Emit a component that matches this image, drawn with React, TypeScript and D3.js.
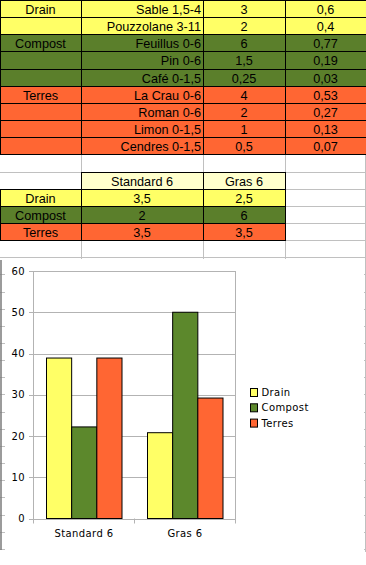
import React from 'react';
import * as d3 from 'd3';

// sheet contents
const rowGroups = ['Drain', 'Drain', 'Compost', 'Compost', 'Compost', 'Terres', 'Terres', 'Terres', 'Terres'];
const materials = ['Sable 1,5-4', 'Pouzzolane 3-11', 'Feuillus 0-6', 'Pin 0-6', 'Café 0-1,5', 'La Crau 0-6', 'Roman 0-6', 'Limon 0-1,5', 'Cendres 0-1,5'];
const volumes = ['3', '2', '6', '1,5', '0,25', '4', '2', '1', '0,5'];
const ratios = ['0,6', '0,4', '0,77', '0,19', '0,03', '0,53', '0,27', '0,13', '0,07'];

const categories = ['Standard 6', 'Gras 6'];
const seriesNames = ['Drain', 'Compost', 'Terres'];
const drainParts = ['3,5', '2,5'];
const compostParts = ['2', '6'];
const terresParts = ['3,5', '3,5'];

// chart values (percent)
const drainPct = [38.9, 20.8];
const compostPct = [22.2, 50];
const terresPct = [38.9, 29.2];
const yTicks = [0, 10, 20, 30, 40, 50, 60];

const colors: Record<string, string> = { Drain: '#ffff66', Compost: '#5b7f2b', Terres: '#ff6633' };
const barColors: Record<string, string> = { Drain: '#ffff66', Compost: '#5c882c', Terres: '#ff6633' };

const W = 366;
const H = 565;
const colX = [0, 81, 203, 285, 366];
const rowY = (i: number) => Math.round(i * 17.15);
const cellFont = { fontFamily: '"Liberation Sans", Arial, sans-serif', fontSize: 12.7 };
const chartFont = { fontFamily: '"DejaVu Sans", Verdana, sans-serif', fontSize: 10, letterSpacing: 0.4 };

function Cell({ row, col, fill, text, align }: { row: number; col: number; fill: string; text: string; align: string }) {
    const x0 = colX[col], x1 = colX[col + 1];
    const y0 = rowY(row), y1 = rowY(row + 1);
    let tx = (x0 + x1) / 2;
    let anchor = 'middle';
    if (align === 'right') { tx = x1 - 2; anchor = 'end'; }
    return (
        <g>
            <rect x={x0 + 0.5} y={y0 + 0.5} width={x1 - x0} height={y1 - y0} fill={fill} stroke="#000" strokeWidth={1} />
            <text x={tx} y={y0 + 14} textAnchor={anchor} style={cellFont} fill="#000">{text}</text>
        </g>
    );
}

export default function App() {
    const chartTop = 259;

    // plot scales
    const y = d3.scaleLinear().domain([0, 60]).range([518.5, 271]);
    const x0 = d3.scaleBand().domain(categories).range([33.5, 235.5]);
    const x1 = d3.scaleBand().domain(seriesNames).range([13, 88.5]);
    const seriesValues: Record<string, number[]> = { Drain: drainPct, Compost: compostPct, Terres: terresPct };

    const rows = d3.range(0, 33);
    const summary = [drainParts, compostParts, terresParts];

    return (
        <>
            <style>{'body{margin:0}'}</style>
            <svg width={W} height={H} style={{ display: 'block', background: '#fff' }}>
                {/* sheet gridlines */}
                {rows.map(i => (
                    <line key={'h' + i} x1={0} x2={W} y1={rowY(i) + 0.5} y2={rowY(i) + 0.5} stroke="#c0c0c0" />
                ))}
                {[81, 203, 285, 365].map(gx => (
                    <line key={'v' + gx} x1={gx + 0.5} x2={gx + 0.5} y1={0} y2={552} stroke="#c0c0c0" />
                ))}

                {/* first table */}
                {materials.map((m, i) => (
                    <g key={'r' + i}>
                        <Cell row={i} col={0} fill={colors[rowGroups[i]]} text={i === 0 || rowGroups[i] !== rowGroups[i - 1] ? rowGroups[i] : ''} align="center" />
                        <Cell row={i} col={1} fill={colors[rowGroups[i]]} text={m} align="right" />
                        <Cell row={i} col={2} fill={colors[rowGroups[i]]} text={volumes[i]} align="center" />
                        <Cell row={i} col={3} fill={colors[rowGroups[i]]} text={ratios[i]} align="center" />
                    </g>
                ))}

                {/* summary table */}
                {categories.map((c, j) => (
                    <Cell key={'hd' + j} row={10} col={j + 1} fill="#ffffcc" text={c} align="center" />
                ))}
                {seriesNames.map((s, i) => (
                    <g key={'s' + i}>
                        <Cell row={11 + i} col={0} fill={colors[s]} text={s} align="center" />
                        {summary[i].map((v, j) => (
                            <Cell key={j} row={11 + i} col={j + 1} fill={colors[s]} text={v} align="center" />
                        ))}
                    </g>
                ))}

                {/* chart object */}
                <rect x={5} y={chartTop} width={359} height={306} fill="#fff" />
                <rect x={0} y={552} width={W} height={13} fill="#fff" />
                <line x1={1} x2={1} y1={260} y2={550} stroke="#7a7a7a" strokeWidth={1.5} />

                {/* grid + frame */}
                {yTicks.map(t => (
                    <g key={'yt' + t}>
                        <line x1={29} x2={235.5} y1={Math.round(y(t)) + 0.5} y2={Math.round(y(t)) + 0.5} stroke="#b3b3b3" />
                        <text x={25} y={y(t)} dy="0.35em" textAnchor="end" style={chartFont} fill="#000">{t}</text>
                    </g>
                ))}
                <line x1={33.5} x2={33.5} y1={271} y2={523.5} stroke="#b3b3b3" />
                <line x1={235.5} x2={235.5} y1={271} y2={523.5} stroke="#b3b3b3" />
                <line x1={134.5} x2={134.5} y1={518.5} y2={523.5} stroke="#b3b3b3" />

                {/* bars */}
                {categories.map((c, j) => (
                    <g key={'bar' + c} transform={`translate(${x0(c)},0)`}>
                        {seriesNames.map(s => (
                            <rect key={s} x={x1(s)} y={y(seriesValues[s][j])} width={x1.bandwidth()} height={y(0) - y(seriesValues[s][j])}
                                fill={barColors[s]} stroke="#000" strokeWidth={1} />
                        ))}
                        <text x={x0.bandwidth() / 2} y={536.5} textAnchor="middle" style={chartFont} fill="#000">{c}</text>
                    </g>
                ))}

                {/* legend */}
                {seriesNames.map((s, i) => {
                    const cy = 392.5 + i * 15.3;
                    return (
                        <g key={'lg' + s}>
                            <rect x={250.5} y={cy - 4} width={7} height={8} fill={barColors[s]} stroke="#000" />
                            <text x={261.5} y={cy} dy="0.35em" style={chartFont} fill="#000">{s}</text>
                        </g>
                    );
                })}
            </svg>
        </>
    );
}
